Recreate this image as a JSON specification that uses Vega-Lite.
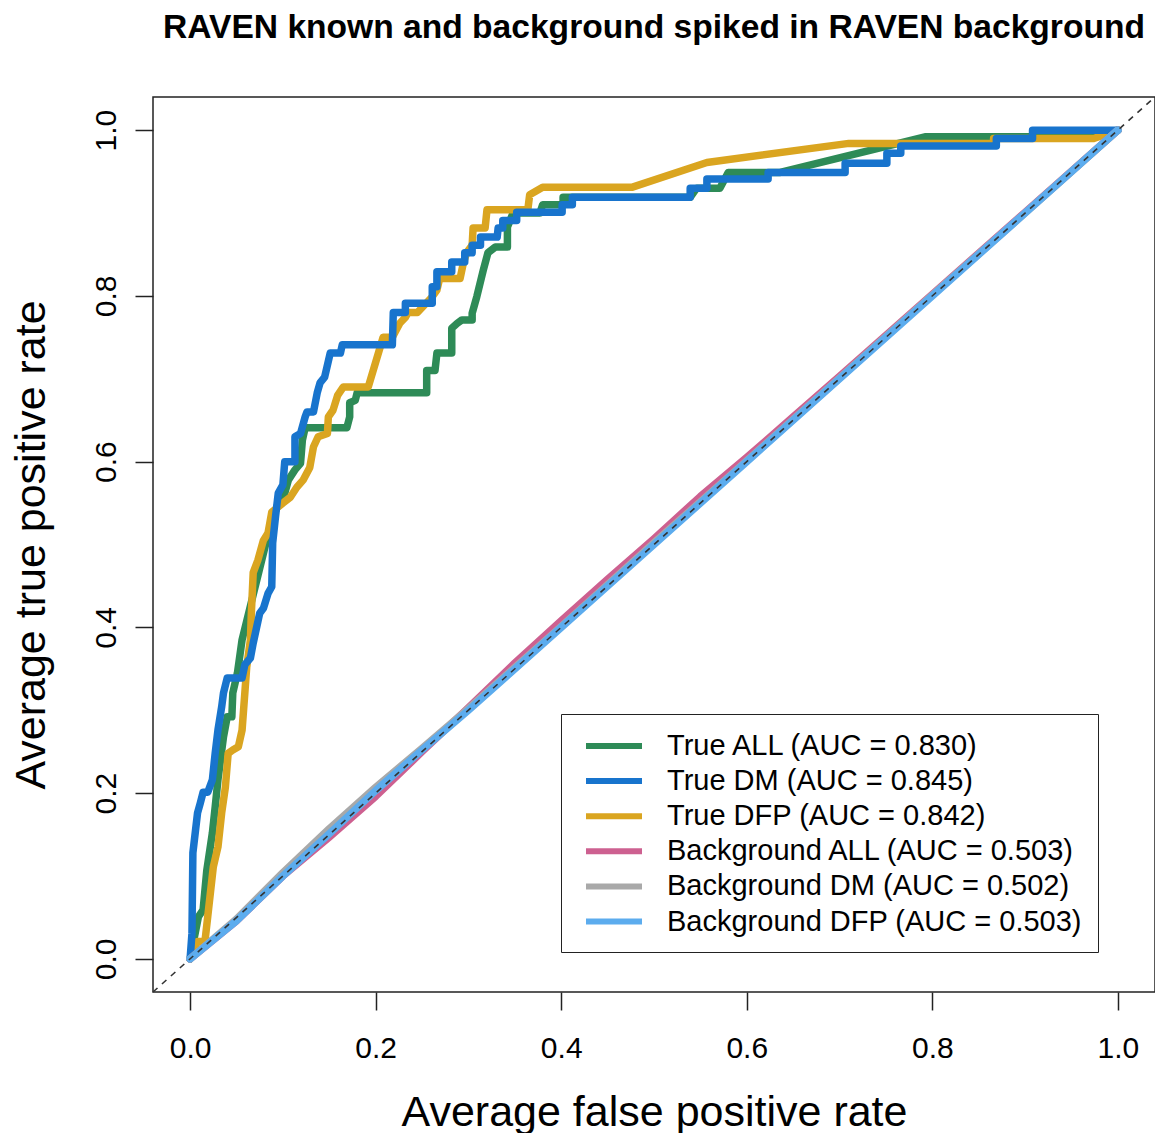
{
  "$schema": "https://vega.github.io/schema/vega-lite/v6.json",
  "width": 1002,
  "height": 895,
  "autosize": {"type": "none"},
  "padding": {"left": 153, "top": 97, "right": 0, "bottom": 141},
  "background": "white",
  "config": {
    "font": "Liberation Sans",
    "view": {"stroke": "#222222", "strokeWidth": 1.5}
  },
  "title": {
    "text": "RAVEN known and background spiked in RAVEN background",
    "font": "Liberation Sans",
    "fontSize": 33.6,
    "fontWeight": "bold",
    "color": "black",
    "anchor": "middle",
    "frame": "group",
    "offset": 49
  },
  "datasets": {
    "roc": [
      {"s": "True ALL (AUC = 0.830)", "fpr": 0, "tpr": 0},
      {"s": "True ALL (AUC = 0.830)", "fpr": 0.009, "tpr": 0.051},
      {"s": "True ALL (AUC = 0.830)", "fpr": 0.014, "tpr": 0.059},
      {"s": "True ALL (AUC = 0.830)", "fpr": 0.018, "tpr": 0.107},
      {"s": "True ALL (AUC = 0.830)", "fpr": 0.024, "tpr": 0.152},
      {"s": "True ALL (AUC = 0.830)", "fpr": 0.027, "tpr": 0.183},
      {"s": "True ALL (AUC = 0.830)", "fpr": 0.030, "tpr": 0.216},
      {"s": "True ALL (AUC = 0.830)", "fpr": 0.036, "tpr": 0.268},
      {"s": "True ALL (AUC = 0.830)", "fpr": 0.040, "tpr": 0.292},
      {"s": "True ALL (AUC = 0.830)", "fpr": 0.045, "tpr": 0.292},
      {"s": "True ALL (AUC = 0.830)", "fpr": 0.046, "tpr": 0.321},
      {"s": "True ALL (AUC = 0.830)", "fpr": 0.051, "tpr": 0.345},
      {"s": "True ALL (AUC = 0.830)", "fpr": 0.056, "tpr": 0.385},
      {"s": "True ALL (AUC = 0.830)", "fpr": 0.086, "tpr": 0.521},
      {"s": "True ALL (AUC = 0.830)", "fpr": 0.095, "tpr": 0.550},
      {"s": "True ALL (AUC = 0.830)", "fpr": 0.102, "tpr": 0.562},
      {"s": "True ALL (AUC = 0.830)", "fpr": 0.106, "tpr": 0.578},
      {"s": "True ALL (AUC = 0.830)", "fpr": 0.113, "tpr": 0.590},
      {"s": "True ALL (AUC = 0.830)", "fpr": 0.119, "tpr": 0.598},
      {"s": "True ALL (AUC = 0.830)", "fpr": 0.121, "tpr": 0.626},
      {"s": "True ALL (AUC = 0.830)", "fpr": 0.124, "tpr": 0.641},
      {"s": "True ALL (AUC = 0.830)", "fpr": 0.169, "tpr": 0.641},
      {"s": "True ALL (AUC = 0.830)", "fpr": 0.172, "tpr": 0.654},
      {"s": "True ALL (AUC = 0.830)", "fpr": 0.172, "tpr": 0.671},
      {"s": "True ALL (AUC = 0.830)", "fpr": 0.178, "tpr": 0.674},
      {"s": "True ALL (AUC = 0.830)", "fpr": 0.180, "tpr": 0.683},
      {"s": "True ALL (AUC = 0.830)", "fpr": 0.255, "tpr": 0.683},
      {"s": "True ALL (AUC = 0.830)", "fpr": 0.255, "tpr": 0.710},
      {"s": "True ALL (AUC = 0.830)", "fpr": 0.264, "tpr": 0.710},
      {"s": "True ALL (AUC = 0.830)", "fpr": 0.266, "tpr": 0.731},
      {"s": "True ALL (AUC = 0.830)", "fpr": 0.282, "tpr": 0.731},
      {"s": "True ALL (AUC = 0.830)", "fpr": 0.282, "tpr": 0.761},
      {"s": "True ALL (AUC = 0.830)", "fpr": 0.288, "tpr": 0.767},
      {"s": "True ALL (AUC = 0.830)", "fpr": 0.293, "tpr": 0.771},
      {"s": "True ALL (AUC = 0.830)", "fpr": 0.304, "tpr": 0.771},
      {"s": "True ALL (AUC = 0.830)", "fpr": 0.304, "tpr": 0.779},
      {"s": "True ALL (AUC = 0.830)", "fpr": 0.309, "tpr": 0.799},
      {"s": "True ALL (AUC = 0.830)", "fpr": 0.316, "tpr": 0.831},
      {"s": "True ALL (AUC = 0.830)", "fpr": 0.321, "tpr": 0.852},
      {"s": "True ALL (AUC = 0.830)", "fpr": 0.329, "tpr": 0.859},
      {"s": "True ALL (AUC = 0.830)", "fpr": 0.342, "tpr": 0.859},
      {"s": "True ALL (AUC = 0.830)", "fpr": 0.342, "tpr": 0.883},
      {"s": "True ALL (AUC = 0.830)", "fpr": 0.348, "tpr": 0.900},
      {"s": "True ALL (AUC = 0.830)", "fpr": 0.377, "tpr": 0.900},
      {"s": "True ALL (AUC = 0.830)", "fpr": 0.380, "tpr": 0.910},
      {"s": "True ALL (AUC = 0.830)", "fpr": 0.402, "tpr": 0.910},
      {"s": "True ALL (AUC = 0.830)", "fpr": 0.402, "tpr": 0.919},
      {"s": "True ALL (AUC = 0.830)", "fpr": 0.539, "tpr": 0.919},
      {"s": "True ALL (AUC = 0.830)", "fpr": 0.546, "tpr": 0.930},
      {"s": "True ALL (AUC = 0.830)", "fpr": 0.571, "tpr": 0.930},
      {"s": "True ALL (AUC = 0.830)", "fpr": 0.580, "tpr": 0.949},
      {"s": "True ALL (AUC = 0.830)", "fpr": 0.636, "tpr": 0.949},
      {"s": "True ALL (AUC = 0.830)", "fpr": 0.792, "tpr": 0.992},
      {"s": "True ALL (AUC = 0.830)", "fpr": 0.975, "tpr": 0.992},
      {"s": "True ALL (AUC = 0.830)", "fpr": 1, "tpr": 1},

      {"s": "True DM (AUC = 0.845)", "fpr": 0, "tpr": 0},
      {"s": "True DM (AUC = 0.845)", "fpr": 0.002, "tpr": 0.031},
      {"s": "True DM (AUC = 0.845)", "fpr": 0.003, "tpr": 0.128},
      {"s": "True DM (AUC = 0.845)", "fpr": 0.008, "tpr": 0.176},
      {"s": "True DM (AUC = 0.845)", "fpr": 0.011, "tpr": 0.188},
      {"s": "True DM (AUC = 0.845)", "fpr": 0.014, "tpr": 0.201},
      {"s": "True DM (AUC = 0.845)", "fpr": 0.019, "tpr": 0.201},
      {"s": "True DM (AUC = 0.845)", "fpr": 0.024, "tpr": 0.216},
      {"s": "True DM (AUC = 0.845)", "fpr": 0.027, "tpr": 0.248},
      {"s": "True DM (AUC = 0.845)", "fpr": 0.030, "tpr": 0.276},
      {"s": "True DM (AUC = 0.845)", "fpr": 0.034, "tpr": 0.304},
      {"s": "True DM (AUC = 0.845)", "fpr": 0.036, "tpr": 0.321},
      {"s": "True DM (AUC = 0.845)", "fpr": 0.040, "tpr": 0.339},
      {"s": "True DM (AUC = 0.845)", "fpr": 0.056, "tpr": 0.339},
      {"s": "True DM (AUC = 0.845)", "fpr": 0.059, "tpr": 0.355},
      {"s": "True DM (AUC = 0.845)", "fpr": 0.065, "tpr": 0.363},
      {"s": "True DM (AUC = 0.845)", "fpr": 0.068, "tpr": 0.381},
      {"s": "True DM (AUC = 0.845)", "fpr": 0.075, "tpr": 0.417},
      {"s": "True DM (AUC = 0.845)", "fpr": 0.079, "tpr": 0.423},
      {"s": "True DM (AUC = 0.845)", "fpr": 0.084, "tpr": 0.441},
      {"s": "True DM (AUC = 0.845)", "fpr": 0.088, "tpr": 0.449},
      {"s": "True DM (AUC = 0.845)", "fpr": 0.089, "tpr": 0.502},
      {"s": "True DM (AUC = 0.845)", "fpr": 0.092, "tpr": 0.533},
      {"s": "True DM (AUC = 0.845)", "fpr": 0.095, "tpr": 0.562},
      {"s": "True DM (AUC = 0.845)", "fpr": 0.100, "tpr": 0.572},
      {"s": "True DM (AUC = 0.845)", "fpr": 0.102, "tpr": 0.600},
      {"s": "True DM (AUC = 0.845)", "fpr": 0.113, "tpr": 0.600},
      {"s": "True DM (AUC = 0.845)", "fpr": 0.113, "tpr": 0.630},
      {"s": "True DM (AUC = 0.845)", "fpr": 0.119, "tpr": 0.634},
      {"s": "True DM (AUC = 0.845)", "fpr": 0.124, "tpr": 0.654},
      {"s": "True DM (AUC = 0.845)", "fpr": 0.126, "tpr": 0.660},
      {"s": "True DM (AUC = 0.845)", "fpr": 0.133, "tpr": 0.660},
      {"s": "True DM (AUC = 0.845)", "fpr": 0.137, "tpr": 0.683},
      {"s": "True DM (AUC = 0.845)", "fpr": 0.140, "tpr": 0.695},
      {"s": "True DM (AUC = 0.845)", "fpr": 0.145, "tpr": 0.702},
      {"s": "True DM (AUC = 0.845)", "fpr": 0.151, "tpr": 0.731},
      {"s": "True DM (AUC = 0.845)", "fpr": 0.162, "tpr": 0.731},
      {"s": "True DM (AUC = 0.845)", "fpr": 0.164, "tpr": 0.741},
      {"s": "True DM (AUC = 0.845)", "fpr": 0.218, "tpr": 0.741},
      {"s": "True DM (AUC = 0.845)", "fpr": 0.219, "tpr": 0.780},
      {"s": "True DM (AUC = 0.845)", "fpr": 0.232, "tpr": 0.780},
      {"s": "True DM (AUC = 0.845)", "fpr": 0.232, "tpr": 0.791},
      {"s": "True DM (AUC = 0.845)", "fpr": 0.261, "tpr": 0.791},
      {"s": "True DM (AUC = 0.845)", "fpr": 0.261, "tpr": 0.811},
      {"s": "True DM (AUC = 0.845)", "fpr": 0.266, "tpr": 0.811},
      {"s": "True DM (AUC = 0.845)", "fpr": 0.266, "tpr": 0.829},
      {"s": "True DM (AUC = 0.845)", "fpr": 0.282, "tpr": 0.829},
      {"s": "True DM (AUC = 0.845)", "fpr": 0.282, "tpr": 0.841},
      {"s": "True DM (AUC = 0.845)", "fpr": 0.296, "tpr": 0.841},
      {"s": "True DM (AUC = 0.845)", "fpr": 0.296, "tpr": 0.852},
      {"s": "True DM (AUC = 0.845)", "fpr": 0.304, "tpr": 0.852},
      {"s": "True DM (AUC = 0.845)", "fpr": 0.304, "tpr": 0.861},
      {"s": "True DM (AUC = 0.845)", "fpr": 0.313, "tpr": 0.861},
      {"s": "True DM (AUC = 0.845)", "fpr": 0.313, "tpr": 0.871},
      {"s": "True DM (AUC = 0.845)", "fpr": 0.331, "tpr": 0.871},
      {"s": "True DM (AUC = 0.845)", "fpr": 0.332, "tpr": 0.882},
      {"s": "True DM (AUC = 0.845)", "fpr": 0.337, "tpr": 0.882},
      {"s": "True DM (AUC = 0.845)", "fpr": 0.337, "tpr": 0.891},
      {"s": "True DM (AUC = 0.845)", "fpr": 0.352, "tpr": 0.891},
      {"s": "True DM (AUC = 0.845)", "fpr": 0.352, "tpr": 0.901},
      {"s": "True DM (AUC = 0.845)", "fpr": 0.401, "tpr": 0.901},
      {"s": "True DM (AUC = 0.845)", "fpr": 0.401, "tpr": 0.910},
      {"s": "True DM (AUC = 0.845)", "fpr": 0.412, "tpr": 0.910},
      {"s": "True DM (AUC = 0.845)", "fpr": 0.412, "tpr": 0.919},
      {"s": "True DM (AUC = 0.845)", "fpr": 0.539, "tpr": 0.919},
      {"s": "True DM (AUC = 0.845)", "fpr": 0.539, "tpr": 0.930},
      {"s": "True DM (AUC = 0.845)", "fpr": 0.557, "tpr": 0.930},
      {"s": "True DM (AUC = 0.845)", "fpr": 0.557, "tpr": 0.941},
      {"s": "True DM (AUC = 0.845)", "fpr": 0.623, "tpr": 0.941},
      {"s": "True DM (AUC = 0.845)", "fpr": 0.623, "tpr": 0.949},
      {"s": "True DM (AUC = 0.845)", "fpr": 0.706, "tpr": 0.949},
      {"s": "True DM (AUC = 0.845)", "fpr": 0.706, "tpr": 0.960},
      {"s": "True DM (AUC = 0.845)", "fpr": 0.751, "tpr": 0.960},
      {"s": "True DM (AUC = 0.845)", "fpr": 0.751, "tpr": 0.972},
      {"s": "True DM (AUC = 0.845)", "fpr": 0.766, "tpr": 0.972},
      {"s": "True DM (AUC = 0.845)", "fpr": 0.766, "tpr": 0.981},
      {"s": "True DM (AUC = 0.845)", "fpr": 0.869, "tpr": 0.981},
      {"s": "True DM (AUC = 0.845)", "fpr": 0.869, "tpr": 0.990},
      {"s": "True DM (AUC = 0.845)", "fpr": 0.908, "tpr": 0.990},
      {"s": "True DM (AUC = 0.845)", "fpr": 0.908, "tpr": 1.0},
      {"s": "True DM (AUC = 0.845)", "fpr": 1, "tpr": 1},

      {"s": "True DFP (AUC = 0.842)", "fpr": 0, "tpr": 0},
      {"s": "True DFP (AUC = 0.842)", "fpr": 0.008, "tpr": 0.021},
      {"s": "True DFP (AUC = 0.842)", "fpr": 0.016, "tpr": 0.021},
      {"s": "True DFP (AUC = 0.842)", "fpr": 0.019, "tpr": 0.051},
      {"s": "True DFP (AUC = 0.842)", "fpr": 0.025, "tpr": 0.111},
      {"s": "True DFP (AUC = 0.842)", "fpr": 0.030, "tpr": 0.135},
      {"s": "True DFP (AUC = 0.842)", "fpr": 0.034, "tpr": 0.176},
      {"s": "True DFP (AUC = 0.842)", "fpr": 0.038, "tpr": 0.207},
      {"s": "True DFP (AUC = 0.842)", "fpr": 0.041, "tpr": 0.248},
      {"s": "True DFP (AUC = 0.842)", "fpr": 0.046, "tpr": 0.252},
      {"s": "True DFP (AUC = 0.842)", "fpr": 0.052, "tpr": 0.256},
      {"s": "True DFP (AUC = 0.842)", "fpr": 0.056, "tpr": 0.276},
      {"s": "True DFP (AUC = 0.842)", "fpr": 0.059, "tpr": 0.321},
      {"s": "True DFP (AUC = 0.842)", "fpr": 0.061, "tpr": 0.352},
      {"s": "True DFP (AUC = 0.842)", "fpr": 0.065, "tpr": 0.385},
      {"s": "True DFP (AUC = 0.842)", "fpr": 0.066, "tpr": 0.417},
      {"s": "True DFP (AUC = 0.842)", "fpr": 0.068, "tpr": 0.466},
      {"s": "True DFP (AUC = 0.842)", "fpr": 0.073, "tpr": 0.481},
      {"s": "True DFP (AUC = 0.842)", "fpr": 0.079, "tpr": 0.505},
      {"s": "True DFP (AUC = 0.842)", "fpr": 0.084, "tpr": 0.514},
      {"s": "True DFP (AUC = 0.842)", "fpr": 0.088, "tpr": 0.539},
      {"s": "True DFP (AUC = 0.842)", "fpr": 0.100, "tpr": 0.550},
      {"s": "True DFP (AUC = 0.842)", "fpr": 0.108, "tpr": 0.557},
      {"s": "True DFP (AUC = 0.842)", "fpr": 0.115, "tpr": 0.569},
      {"s": "True DFP (AUC = 0.842)", "fpr": 0.122, "tpr": 0.578},
      {"s": "True DFP (AUC = 0.842)", "fpr": 0.129, "tpr": 0.593},
      {"s": "True DFP (AUC = 0.842)", "fpr": 0.133, "tpr": 0.618},
      {"s": "True DFP (AUC = 0.842)", "fpr": 0.138, "tpr": 0.630},
      {"s": "True DFP (AUC = 0.842)", "fpr": 0.148, "tpr": 0.634},
      {"s": "True DFP (AUC = 0.842)", "fpr": 0.149, "tpr": 0.654},
      {"s": "True DFP (AUC = 0.842)", "fpr": 0.154, "tpr": 0.662},
      {"s": "True DFP (AUC = 0.842)", "fpr": 0.159, "tpr": 0.680},
      {"s": "True DFP (AUC = 0.842)", "fpr": 0.165, "tpr": 0.690},
      {"s": "True DFP (AUC = 0.842)", "fpr": 0.192, "tpr": 0.690},
      {"s": "True DFP (AUC = 0.842)", "fpr": 0.208, "tpr": 0.750},
      {"s": "True DFP (AUC = 0.842)", "fpr": 0.218, "tpr": 0.750},
      {"s": "True DFP (AUC = 0.842)", "fpr": 0.226, "tpr": 0.767},
      {"s": "True DFP (AUC = 0.842)", "fpr": 0.232, "tpr": 0.774},
      {"s": "True DFP (AUC = 0.842)", "fpr": 0.235, "tpr": 0.780},
      {"s": "True DFP (AUC = 0.842)", "fpr": 0.245, "tpr": 0.780},
      {"s": "True DFP (AUC = 0.842)", "fpr": 0.261, "tpr": 0.799},
      {"s": "True DFP (AUC = 0.842)", "fpr": 0.266, "tpr": 0.807},
      {"s": "True DFP (AUC = 0.842)", "fpr": 0.269, "tpr": 0.821},
      {"s": "True DFP (AUC = 0.842)", "fpr": 0.291, "tpr": 0.821},
      {"s": "True DFP (AUC = 0.842)", "fpr": 0.294, "tpr": 0.837},
      {"s": "True DFP (AUC = 0.842)", "fpr": 0.298, "tpr": 0.852},
      {"s": "True DFP (AUC = 0.842)", "fpr": 0.304, "tpr": 0.861},
      {"s": "True DFP (AUC = 0.842)", "fpr": 0.305, "tpr": 0.882},
      {"s": "True DFP (AUC = 0.842)", "fpr": 0.318, "tpr": 0.882},
      {"s": "True DFP (AUC = 0.842)", "fpr": 0.320, "tpr": 0.904},
      {"s": "True DFP (AUC = 0.842)", "fpr": 0.364, "tpr": 0.904},
      {"s": "True DFP (AUC = 0.842)", "fpr": 0.366, "tpr": 0.922},
      {"s": "True DFP (AUC = 0.842)", "fpr": 0.380, "tpr": 0.931},
      {"s": "True DFP (AUC = 0.842)", "fpr": 0.476, "tpr": 0.931},
      {"s": "True DFP (AUC = 0.842)", "fpr": 0.557, "tpr": 0.961},
      {"s": "True DFP (AUC = 0.842)", "fpr": 0.710, "tpr": 0.984},
      {"s": "True DFP (AUC = 0.842)", "fpr": 0.866, "tpr": 0.984},
      {"s": "True DFP (AUC = 0.842)", "fpr": 0.866, "tpr": 0.990},
      {"s": "True DFP (AUC = 0.842)", "fpr": 0.974, "tpr": 0.990},
      {"s": "True DFP (AUC = 0.842)", "fpr": 1, "tpr": 1},

      {"s": "Background ALL (AUC = 0.503)", "fpr": 0, "tpr": 0},
      {"s": "Background ALL (AUC = 0.503)", "fpr": 0.05, "tpr": 0.046},
      {"s": "Background ALL (AUC = 0.503)", "fpr": 0.1, "tpr": 0.1},
      {"s": "Background ALL (AUC = 0.503)", "fpr": 0.15, "tpr": 0.147},
      {"s": "Background ALL (AUC = 0.503)", "fpr": 0.2, "tpr": 0.196},
      {"s": "Background ALL (AUC = 0.503)", "fpr": 0.25, "tpr": 0.25},
      {"s": "Background ALL (AUC = 0.503)", "fpr": 0.3, "tpr": 0.303},
      {"s": "Background ALL (AUC = 0.503)", "fpr": 0.35, "tpr": 0.357},
      {"s": "Background ALL (AUC = 0.503)", "fpr": 0.4, "tpr": 0.408},
      {"s": "Background ALL (AUC = 0.503)", "fpr": 0.45, "tpr": 0.458},
      {"s": "Background ALL (AUC = 0.503)", "fpr": 0.5, "tpr": 0.507},
      {"s": "Background ALL (AUC = 0.503)", "fpr": 0.55, "tpr": 0.558},
      {"s": "Background ALL (AUC = 0.503)", "fpr": 0.6, "tpr": 0.605},
      {"s": "Background ALL (AUC = 0.503)", "fpr": 0.65, "tpr": 0.654},
      {"s": "Background ALL (AUC = 0.503)", "fpr": 0.7, "tpr": 0.703},
      {"s": "Background ALL (AUC = 0.503)", "fpr": 0.8, "tpr": 0.802},
      {"s": "Background ALL (AUC = 0.503)", "fpr": 0.9, "tpr": 0.901},
      {"s": "Background ALL (AUC = 0.503)", "fpr": 1, "tpr": 1},

      {"s": "Background DM (AUC = 0.502)", "fpr": 0, "tpr": 0},
      {"s": "Background DM (AUC = 0.502)", "fpr": 0.05, "tpr": 0.048},
      {"s": "Background DM (AUC = 0.502)", "fpr": 0.1, "tpr": 0.104},
      {"s": "Background DM (AUC = 0.502)", "fpr": 0.15, "tpr": 0.157},
      {"s": "Background DM (AUC = 0.502)", "fpr": 0.2, "tpr": 0.207},
      {"s": "Background DM (AUC = 0.502)", "fpr": 0.25, "tpr": 0.254},
      {"s": "Background DM (AUC = 0.502)", "fpr": 0.3, "tpr": 0.302},
      {"s": "Background DM (AUC = 0.502)", "fpr": 0.4, "tpr": 0.401},
      {"s": "Background DM (AUC = 0.502)", "fpr": 0.5, "tpr": 0.502},
      {"s": "Background DM (AUC = 0.502)", "fpr": 0.6, "tpr": 0.601},
      {"s": "Background DM (AUC = 0.502)", "fpr": 0.7, "tpr": 0.701},
      {"s": "Background DM (AUC = 0.502)", "fpr": 0.8, "tpr": 0.801},
      {"s": "Background DM (AUC = 0.502)", "fpr": 0.9, "tpr": 0.9},
      {"s": "Background DM (AUC = 0.502)", "fpr": 1, "tpr": 1},

      {"s": "Background DFP (AUC = 0.503)", "fpr": 0, "tpr": 0},
      {"s": "Background DFP (AUC = 0.503)", "fpr": 0.05, "tpr": 0.046},
      {"s": "Background DFP (AUC = 0.503)", "fpr": 0.1, "tpr": 0.1},
      {"s": "Background DFP (AUC = 0.503)", "fpr": 0.15, "tpr": 0.151},
      {"s": "Background DFP (AUC = 0.503)", "fpr": 0.2, "tpr": 0.203},
      {"s": "Background DFP (AUC = 0.503)", "fpr": 0.25, "tpr": 0.252},
      {"s": "Background DFP (AUC = 0.503)", "fpr": 0.3, "tpr": 0.3},
      {"s": "Background DFP (AUC = 0.503)", "fpr": 0.4, "tpr": 0.4},
      {"s": "Background DFP (AUC = 0.503)", "fpr": 0.5, "tpr": 0.5},
      {"s": "Background DFP (AUC = 0.503)", "fpr": 0.6, "tpr": 0.6},
      {"s": "Background DFP (AUC = 0.503)", "fpr": 0.7, "tpr": 0.7},
      {"s": "Background DFP (AUC = 0.503)", "fpr": 0.8, "tpr": 0.8},
      {"s": "Background DFP (AUC = 0.503)", "fpr": 0.9, "tpr": 0.9},
      {"s": "Background DFP (AUC = 0.503)", "fpr": 1, "tpr": 1}
    ],
    "diag": [
      {"fpr": -0.04, "tpr": -0.04},
      {"fpr": 1.04, "tpr": 1.04}
    ]
  },
  "encoding": {
    "x": {
      "field": "fpr",
      "type": "quantitative",
      "scale": {"domain": [-0.04, 1.04], "nice": false, "zero": false},
      "axis": {
        "title": "Average false positive rate",
        "values": [0, 0.2, 0.4, 0.6, 0.8, 1],
        "format": ".1f",
        "domain": false,
        "grid": false,
        "ticks": true,
        "tickSize": 18,
        "tickWidth": 1.5,
        "tickColor": "#222222",
        "labelFont": "Liberation Sans",
        "labelFontSize": 30,
        "labelColor": "black",
        "labelPadding": 23,
        "labelFlush": false,
        "labelOverlap": false,
        "labelBaseline": "top",
        "titleFont": "Liberation Sans",
        "titleFontSize": 43,
        "titleFontWeight": "normal",
        "titleColor": "black",
        "titleBaseline": "alphabetic",
        "titleY": 133
      }
    },
    "y": {
      "field": "tpr",
      "type": "quantitative",
      "scale": {"domain": [-0.04, 1.04], "nice": false, "zero": false},
      "axis": {
        "title": "Average true positive rate",
        "values": [0, 0.2, 0.4, 0.6, 0.8, 1],
        "format": ".1f",
        "domain": false,
        "grid": false,
        "ticks": true,
        "tickSize": 18,
        "tickWidth": 1.5,
        "tickColor": "#222222",
        "labelFont": "Liberation Sans",
        "labelFontSize": 30,
        "labelColor": "black",
        "labelAngle": -90,
        "labelAlign": "center",
        "labelBaseline": "bottom",
        "labelPadding": 14,
        "labelFlush": false,
        "labelOverlap": false,
        "titleFont": "Liberation Sans",
        "titleFontSize": 43,
        "titleFontWeight": "normal",
        "titleColor": "black",
        "titleBaseline": "alphabetic",
        "titleX": -109
      }
    },
    "color": {
      "field": "s",
      "type": "nominal",
      "scale": {
        "domain": [
          "True ALL (AUC = 0.830)",
          "True DM (AUC = 0.845)",
          "True DFP (AUC = 0.842)",
          "Background ALL (AUC = 0.503)",
          "Background DM (AUC = 0.502)",
          "Background DFP (AUC = 0.503)"
        ],
        "range": ["#2E8B57", "#1874CD", "#DAA520", "#CD6090", "#A9A9A9", "#5CACEE"]
      },
      "legend": {
        "title": null,
        "orient": "none",
        "legendX": 408,
        "legendY": 617,
        "direction": "vertical",
        "labelFont": "Liberation Sans",
        "labelFontSize": 29,
        "labelColor": "black",
        "labelLimit": 700,
        "labelOffset": 36,
        "symbolType": "M-2,0H2",
        "symbolSize": 784,
        "symbolStrokeWidth": 6,
        "symbolOffset": 21,
        "rowPadding": 3.1,
        "padding": 15,
        "strokeColor": "#222222",
        "fillColor": "white"
      }
    },
    "order": [
      {"field": "fpr", "type": "quantitative"},
      {"field": "tpr", "type": "quantitative"}
    ]
  },
  "layer": [
    {
      "data": {"name": "roc"},
      "transform": [{"filter": "datum.s === 'True ALL (AUC = 0.830)'"}],
      "mark": {"type": "line", "strokeWidth": 7.5, "strokeJoin": "round", "strokeCap": "round"}
    },
    {
      "data": {"name": "roc"},
      "transform": [{"filter": "datum.s === 'True DFP (AUC = 0.842)'"}],
      "mark": {"type": "line", "strokeWidth": 7.5, "strokeJoin": "round", "strokeCap": "round"}
    },
    {
      "data": {"name": "roc"},
      "transform": [{"filter": "datum.s === 'True DM (AUC = 0.845)'"}],
      "mark": {"type": "line", "strokeWidth": 7.5, "strokeJoin": "round", "strokeCap": "round"}
    },
    {
      "data": {"name": "roc"},
      "transform": [{"filter": "datum.s === 'Background ALL (AUC = 0.503)'"}],
      "mark": {"type": "line", "strokeWidth": 7.5, "strokeJoin": "round", "strokeCap": "round"}
    },
    {
      "data": {"name": "roc"},
      "transform": [{"filter": "datum.s === 'Background DM (AUC = 0.502)'"}],
      "mark": {"type": "line", "strokeWidth": 7.5, "strokeJoin": "round", "strokeCap": "round"}
    },
    {
      "data": {"name": "roc"},
      "transform": [{"filter": "datum.s === 'Background DFP (AUC = 0.503)'"}],
      "mark": {"type": "line", "strokeWidth": 7.5, "strokeJoin": "round", "strokeCap": "round"}
    },
    {
      "data": {"name": "diag"},
      "mark": {"type": "line", "strokeWidth": 1.6, "strokeDash": [6, 6], "color": "#333333"},
      "encoding": {"color": {"value": "#333333"}, "order": {"field": "fpr", "type": "quantitative"}}
    }
  ]
}
